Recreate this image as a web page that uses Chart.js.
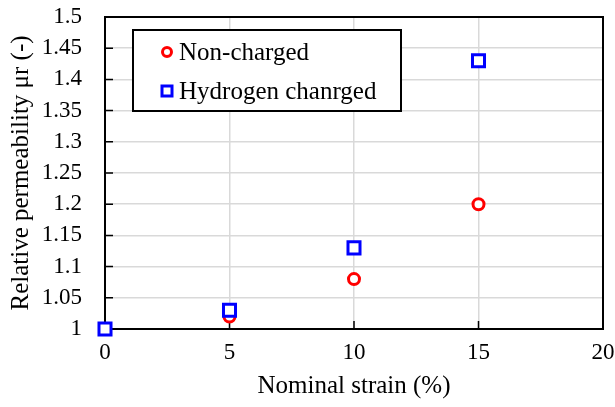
<!DOCTYPE html>
<html lang="en">
  <head>
    <meta charset="UTF-8" />
    <title>Relative permeability vs nominal strain</title>
    <style>
      body {
        margin: 0;
        background: #ffffff;
      }

      .wrap {
        width: 615px;
        height: 407px;
        position: relative;
      }
    </style>
    <script src="https://cdn.jsdelivr.net/npm/chart.js"></script>
  </head>
  <body>
    <div class="wrap">
      <canvas id="permChart"></canvas>
    </div>

    <script>
      const strain = [0, 5, 10, 15];
      const nonCharged = [1.0, 1.02, 1.08, 1.2];
      const hydrogenCharged = [1.0, 1.03, 1.13, 1.43];
      const seriesLabels = ["Non-charged", "Hydrogen chanrged"];
      const xTitle = "Nominal strain (%)";
      const yTitle = "Relative permeability \u03bcr (-)";

      const serif = "'Liberation Serif', 'Times New Roman', serif";

      function toPoints(values) {
        return strain.map((s, i) => ({ x: s, y: values[i] }));
      }

      // frame round the plot area and the short inner tick marks
      const framePlugin = {
        id: "frame",
        beforeDatasetsDraw(chart) {
          const { ctx, chartArea, scales } = chart;
          ctx.save();
          ctx.strokeStyle = "#000000";
          ctx.lineWidth = 1.5;
          ctx.beginPath();
          scales.y.ticks.forEach((t) => {
            const py = scales.y.getPixelForValue(t.value);
            ctx.moveTo(chartArea.left, py);
            ctx.lineTo(chartArea.left + 8, py);
          });
          scales.x.ticks.forEach((t) => {
            const px = scales.x.getPixelForValue(t.value);
            ctx.moveTo(px, chartArea.bottom);
            ctx.lineTo(px, chartArea.bottom - 8);
          });
          ctx.stroke();
          ctx.lineWidth = 2;
          ctx.strokeRect(
            chartArea.left,
            chartArea.top,
            chartArea.right - chartArea.left,
            chartArea.bottom - chartArea.top
          );
          ctx.restore();
        },
      };

      // legend drawn as a boxed panel inside the plot
      const boxLegend = {
        id: "boxLegend",
        afterDraw(chart) {
          const { ctx, chartArea } = chart;
          const left = chartArea.left + 28;
          const top = chartArea.top + 13;
          const width = 268;
          const height = 81;
          ctx.save();
          ctx.fillStyle = "#ffffff";
          ctx.fillRect(left, top, width, height);
          ctx.strokeStyle = "#000000";
          ctx.lineWidth = 2;
          ctx.strokeRect(left, top, width, height);
          ctx.font = "25px " + serif;
          ctx.textBaseline = "middle";
          chart.data.datasets.forEach((ds, i) => {
            const cy = top + 22 + i * 39;
            const cx = left + 34;
            ctx.strokeStyle = ds.borderColor;
            ctx.fillStyle = "#ffffff";
            ctx.lineWidth = 3;
            if (ds.pointStyle === "rect") {
              ctx.fillRect(cx - 5, cy - 5, 10, 10);
              ctx.strokeRect(cx - 5, cy - 5, 10, 10);
            } else {
              ctx.beginPath();
              ctx.arc(cx, cy, 4.5, 0, Math.PI * 2);
              ctx.fill();
              ctx.stroke();
            }
            ctx.fillStyle = "#000000";
            ctx.fillText(ds.label, cx + 12, cy + 1);
          });
          ctx.restore();
        },
      };

      new Chart(document.getElementById("permChart").getContext("2d"), {
        type: "scatter",
        data: {
          datasets: [
            {
              label: seriesLabels[0],
              data: toPoints(nonCharged),
              borderColor: "#ff0000",
              backgroundColor: "#ffffff",
              pointStyle: "circle",
              pointRadius: 5.5,
              pointBorderWidth: 3,
              clip: false,
              order: 2,
            },
            {
              label: seriesLabels[1],
              data: toPoints(hydrogenCharged),
              borderColor: "#0000ff",
              backgroundColor: "#ffffff",
              pointStyle: "rect",
              pointRadius: 8.5,
              pointBorderWidth: 3,
              clip: false,
              order: 1,
            },
          ],
        },
        plugins: [framePlugin, boxLegend],
        options: {
          responsive: true,
          maintainAspectRatio: false,
          animation: false,
          layout: { padding: { top: 17, right: 12, left: 0, bottom: 0 } },
          plugins: {
            legend: { display: false },
            tooltip: { enabled: false },
          },
          scales: {
            x: {
              min: 0,
              max: 20,
              ticks: {
                stepSize: 5,
                color: "#000000",
                padding: 10,
                maxRotation: 0,
                autoSkip: false,
                font: { family: serif, size: 23 },
              },
              grid: { color: "#d9d9d9", lineWidth: 1.5, drawTicks: false },
              border: { display: false },
              title: {
                display: true,
                text: xTitle,
                color: "#000000",
                padding: { top: 0, bottom: 6 },
                font: { family: serif, size: 25 },
              },
              afterFit(scale) {
                scale.height = 78;
                scale.paddingLeft = 0;
                scale.paddingRight = 0;
              },
            },
            y: {
              min: 1,
              max: 1.5,
              ticks: {
                stepSize: 0.05,
                color: "#000000",
                padding: 23,
                autoSkip: false,
                font: { family: serif, size: 23 },
                callback: (v) => String(parseFloat(v.toFixed(2))),
              },
              grid: { color: "#d9d9d9", lineWidth: 1.5, drawTicks: false },
              border: { display: false },
              title: {
                display: true,
                text: yTitle,
                color: "#000000",
                padding: { top: 6, bottom: 0 },
                font: { family: serif, size: 25 },
              },
              afterFit(scale) {
                scale.width = 105;
                scale.paddingTop = 0;
                scale.paddingBottom = 0;
              },
            },
          },
        },
      });
    </script>
  </body>
</html>
